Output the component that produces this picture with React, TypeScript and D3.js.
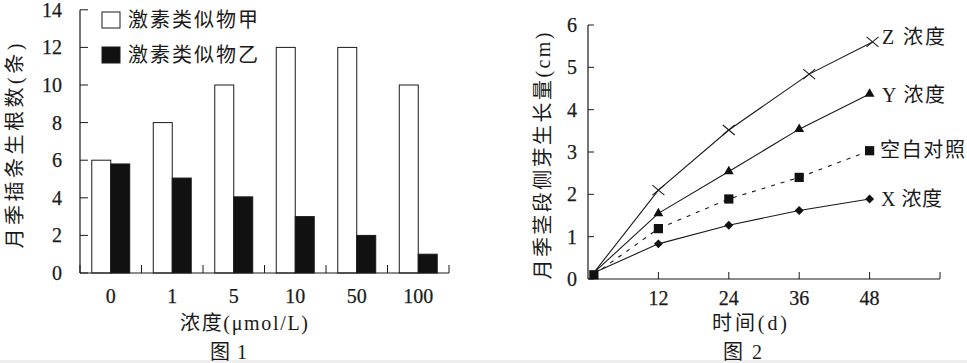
import React from "react";
import * as d3 from "d3";

// ---------- Figure 1 data ----------
const concentrations = ["0", "1", "5", "10", "50", "100"];
const analogJia = [6, 8, 10, 12, 12, 10];
const analogYi = [5.8, 5.05, 4.05, 3.0, 2.0, 1.0];
const fig1YTicks = [0, 2, 4, 6, 8, 10, 12, 14];
const fig1Legend = ["激素类似物甲", "激素类似物乙"];

// ---------- Figure 2 data ----------
const days = [1, 12, 24, 36, 48];
const zDays = [1, 12, 24, 37.7, 48.5];
const zValues = [0.15, 2.1, 3.52, 4.84, 5.6];
const yValues = [0.15, 1.55, 2.54, 3.54, 4.37];
const controlValues = [0.1, 1.19, 1.89, 2.4, 3.03];
const xValues = [0.15, 0.83, 1.27, 1.62, 1.89];
const fig2XTicks = [12, 24, 36, 48];
const fig2YTicks = [0, 1, 2, 3, 4, 5, 6];
const seriesNames = ["Z 浓度", "Y 浓度", "空白对照", "X 浓度"];

const FONT = "'Liberation Serif', 'Noto Sans CJK SC', serif";
const INK = "#1a1a1a";

const numStyle = { stroke: INK, strokeWidth: 0.25 } as const;

function Fig1() {
  const x = d3.scaleBand<string>().domain(concentrations).range([80, 449]).padding(0);
  const inner = d3
    .scaleBand<string>()
    .domain(["jia", "yi"])
    .range([0, x.bandwidth()])
    .paddingInner(0)
    .paddingOuter(0.62);
  const y = d3.scaleLinear().domain([0, 14]).range([273, 9.8]);
  const y0 = y(0);
  const boundaries = concentrations.map((c) => x(c)!).concat([x.range()[1]]);
  return (
    <g>
      {concentrations.map((c, i) => (
        <g key={c}>
          <rect
            x={x(c)! + inner("jia")!}
            y={y(analogJia[i])}
            width={inner.bandwidth()}
            height={y0 - y(analogJia[i])}
            fill="#fff"
            stroke={INK}
            strokeWidth={1}
          />
          <rect
            x={x(c)! + inner("yi")!}
            y={y(analogYi[i])}
            width={inner.bandwidth()}
            height={y0 - y(analogYi[i])}
            fill="#111"
            stroke={INK}
            strokeWidth={1}
          />
        </g>
      ))}
      <line x1={80} x2={80} y1={y(14)} y2={y0} stroke={INK} strokeWidth={1.2} />
      <line x1={80} x2={449} y1={y0} y2={y0} stroke={INK} strokeWidth={1.2} />
      {fig1YTicks.map((t) => (
        <g key={t}>
          <line x1={80} x2={88} y1={y(t)} y2={y(t)} stroke={INK} strokeWidth={1} />
          <text x={62} y={y(t)} dy="0.35em" textAnchor="end" fontSize={20} fontFamily={FONT} fill={INK} {...numStyle}>
            {t}
          </text>
        </g>
      ))}
      {boundaries.map((b, i) => (
        <line key={i} x1={b} x2={b} y1={y0} y2={y0 - 8} stroke={INK} strokeWidth={1} />
      ))}
      {concentrations.map((c) => (
        <text
          key={c}
          x={x(c)! + x.bandwidth() / 2}
          y={296}
          dy="0.35em"
          textAnchor="middle"
          fontSize={20}
          fontFamily={FONT}
          fill={INK}
          {...numStyle}
        >
          {c}
        </text>
      ))}
      <rect x={102} y={12} width={18} height={16} fill="#fff" stroke={INK} strokeWidth={1} />
      <rect x={102} y={47} width={18} height={16} fill="#111" stroke={INK} strokeWidth={1} />
      <text x={128} y={20} dy="0.35em" fontSize={20} fontFamily={FONT} fill={INK} textLength={130} lengthAdjust="spacing">
        {fig1Legend[0]}
      </text>
      <text x={128} y={55} dy="0.35em" fontSize={20} fontFamily={FONT} fill={INK} textLength={130} lengthAdjust="spacing">
        {fig1Legend[1]}
      </text>
      <text
        transform="translate(15,146) rotate(-90)"
        textAnchor="middle"
        dy="0.35em"
        fontSize={20}
        fontFamily={FONT}
        fill={INK}
        textLength={205}
        lengthAdjust="spacing"
      >
        月季插条生根数(条)
      </text>
      <text x={180} y={323} dy="0.35em" fontSize={20} fontFamily={FONT} fill={INK} textLength={128} lengthAdjust="spacing">
        浓度(μmol/L)
      </text>
      <text x={210} y={352} dy="0.35em" fontSize={20} fontFamily={FONT} fill={INK} textLength={37} lengthAdjust="spacing">
        图 1
      </text>
    </g>
  );
}

function Fig2() {
  const x = d3.scaleLinear().domain([0, 60]).range([588, 940]);
  const y = d3.scaleLinear().domain([0, 6]).range([279, 25]);
  const line = d3
    .line<[number, number]>()
    .x((d) => x(d[0]))
    .y((d) => y(d[1]));
  const pts = (xs: number[], vs: number[]) => xs.map((d, i) => [d, vs[i]] as [number, number]);
  const zPts = pts(zDays, zValues);
  const yPts = pts(days, yValues);
  const cPts = pts(days, controlValues);
  const xPts = pts(days, xValues);
  const tri = d3.symbol().type(d3.symbolTriangle).size(42)()!;
  const sq = d3.symbol().type(d3.symbolSquare).size(85)()!;
  const dia = d3.symbol().type(d3.symbolSquare).size(40)()!;
  const y0 = y(0);
  return (
    <g>
      <line x1={588} x2={588} y1={y(6)} y2={y0} stroke={INK} strokeWidth={1.2} />
      <line x1={588} x2={940} y1={y0} y2={y0} stroke={INK} strokeWidth={1.2} />
      {fig2YTicks.map((t) => (
        <g key={t}>
          <line x1={588} x2={594} y1={y(t)} y2={y(t)} stroke={INK} strokeWidth={1} />
          <text x={577} y={y(t)} dy="0.35em" textAnchor="end" fontSize={20} fontFamily={FONT} fill={INK} {...numStyle}>
            {t}
          </text>
        </g>
      ))}
      {fig2XTicks.concat([60]).map((t) => (
        <line key={t} x1={x(t)} x2={x(t)} y1={y0} y2={y0 - 7} stroke={INK} strokeWidth={1} />
      ))}
      {fig2XTicks.map((t) => (
        <text key={t} x={x(t)} y={298} dy="0.35em" textAnchor="middle" fontSize={20} fontFamily={FONT} fill={INK} {...numStyle}>
          {t}
        </text>
      ))}
      <path d={line(zPts)!} fill="none" stroke={INK} strokeWidth={1.1} />
      <path d={line(yPts)!} fill="none" stroke={INK} strokeWidth={1.1} />
      <path d={line(cPts)!} fill="none" stroke={INK} strokeWidth={1.1} strokeDasharray="4,6" />
      <path d={line(xPts)!} fill="none" stroke={INK} strokeWidth={1.1} />
      {zPts.slice(1).map((p, i) => (
        <path
          key={"z" + i}
          d={`M${x(p[0]) - 6},${y(p[1]) - 5}L${x(p[0]) + 6},${y(p[1]) + 5}M${x(p[0]) - 6},${y(p[1]) + 5}L${x(p[0]) + 6},${y(p[1]) - 5}`}
          stroke={INK}
          strokeWidth={1.1}
          fill="none"
        />
      ))}
      {yPts.slice(1).map((p, i) => (
        <path key={"y" + i} d={tri} transform={`translate(${x(p[0])},${y(p[1])})`} fill="#111" />
      ))}
      {cPts.map((p, i) => (
        <path key={"c" + i} d={sq} transform={`translate(${x(p[0])},${y(p[1])})`} fill="#111" />
      ))}
      {xPts.slice(1).map((p, i) => (
        <path key={"x" + i} d={dia} transform={`translate(${x(p[0])},${y(p[1])}) rotate(45)`} fill="#111" />
      ))}
      <text x={882} y={y(zValues[4]) - 5} dy="0.35em" fontSize={20} fontFamily={FONT} fill={INK} textLength={63} lengthAdjust="spacing">
        {seriesNames[0]}
      </text>
      <text x={882} y={y(yValues[4]) + 1} dy="0.35em" fontSize={20} fontFamily={FONT} fill={INK} textLength={63} lengthAdjust="spacing">
        {seriesNames[1]}
      </text>
      <text x={880} y={y(controlValues[4]) - 1} dy="0.35em" fontSize={20} fontFamily={FONT} fill={INK} textLength={85} lengthAdjust="spacing">
        {seriesNames[2]}
      </text>
      <text x={881} y={y(xValues[4])} dy="0.35em" fontSize={20} fontFamily={FONT} fill={INK} textLength={61} lengthAdjust="spacing">
        {seriesNames[3]}
      </text>
      <text
        transform="translate(543,156) rotate(-90)"
        textAnchor="middle"
        dy="0.35em"
        fontSize={20}
        fontFamily={FONT}
        fill={INK}
        textLength={247}
        lengthAdjust="spacing"
      >
        月季茎段侧芽生长量(cm)
      </text>
      <text x={712} y={323} dy="0.35em" fontSize={20} fontFamily={FONT} fill={INK} textLength={75} lengthAdjust="spacing">
        时间(d)
      </text>
      <text x={723} y={352} dy="0.35em" fontSize={20} fontFamily={FONT} fill={INK} textLength={39} lengthAdjust="spacing">
        图 2
      </text>
    </g>
  );
}

export default function App() {
  return (
    <svg
      width={967}
      height={363}
      viewBox="0 0 967 363"
      style={{ position: "fixed", left: 0, top: 0, background: "#fff" }}
    >
      <rect x={0} y={0} width={967} height={363} fill="#fff" />
      <rect x={0} y={360} width={967} height={3} fill="#eeeeee" />
      <Fig1 />
      <Fig2 />
    </svg>
  );
}
